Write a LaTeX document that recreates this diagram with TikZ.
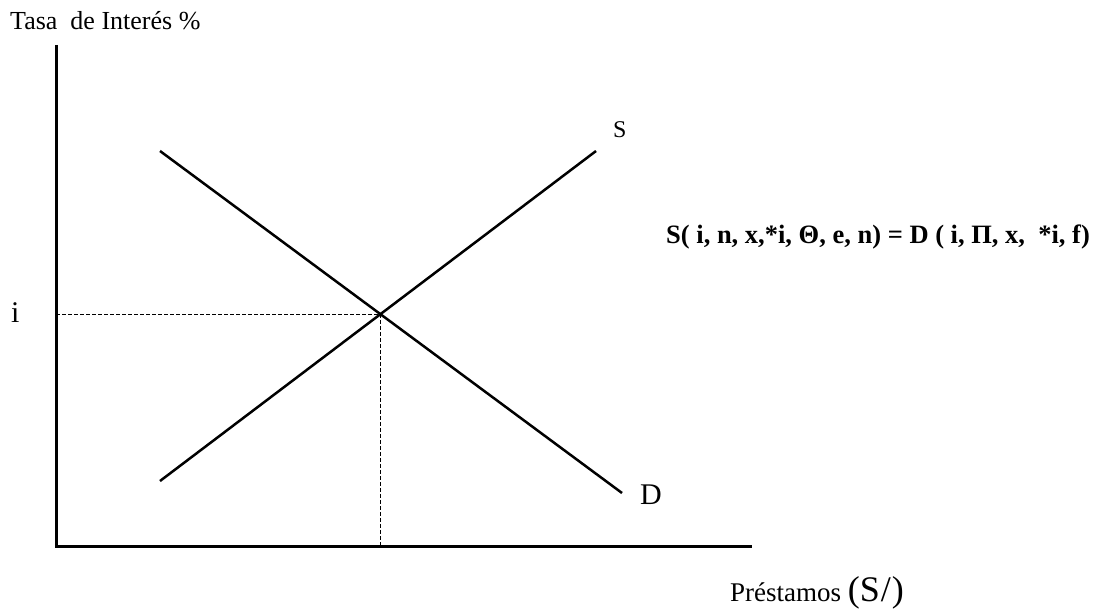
\documentclass[tikz,border=0pt]{standalone}
\usepackage{fontspec}
\setmainfont{Liberation Serif}
\usetikzlibrary{intersections}
\begin{document}
\begin{tikzpicture}[x=1pt,y=-1pt,
  axis/.style={line width=3pt},
  curve/.style={line width=2.5pt},
  guide/.style={line width=1pt,dash pattern=on 4pt off 2pt},
  lbl/.style={inner sep=0pt,anchor=base west,text=black}]
\useasboundingbox[fill=white] (0,0) rectangle (1110,610);
% axes
\coordinate (O) at (56,546);
\coordinate (Ytop) at (56,45);
\coordinate (Xend) at (752,546);
\draw[axis] (Ytop) -- (O) -- (Xend);
% curves
\coordinate (S0) at (160,481);
\coordinate (S1) at (596,151);
\coordinate (D0) at (160,151);
\coordinate (D1) at (622,493);
\draw[curve,name path=sline] (S0) -- (S1);
\draw[curve,name path=dline] (D0) -- (D1);
\path[name intersections={of=sline and dline,by=E}];
\coordinate (Ey) at (O |- E);
\coordinate (Ex) at (E |- O);
\draw[guide] (Ey) -- (E) -- (Ex);
% labels
\node[lbl,font=\fontsize{26}{30}\selectfont] (ylab) at (10,30) {Tasa\ \ de Interés \%};
\node[lbl,font=\fontsize{30}{34}\selectfont] (ilab) at (11,322) {i};
\node[lbl,font=\fontsize{24}{28}\selectfont] (slab) at (613,137) {S};
\node[lbl,font=\fontsize{30}{34}\selectfont] (dlab) at (640,504) {D};
\node[lbl,font=\bfseries\fontsize{26.5}{30}\selectfont] (eq) at (666,243) {S( i, n, x,*i, Θ, e, n) = D ( i, Π, x, \ *i, f)};
\node[lbl,font=\fontsize{27}{30}\selectfont] (xlab) at (730,601) {Préstamos\ {\fontsize{36}{38}\selectfont(S\kern1pt/\kern1pt)}};
\end{tikzpicture}
\end{document}
